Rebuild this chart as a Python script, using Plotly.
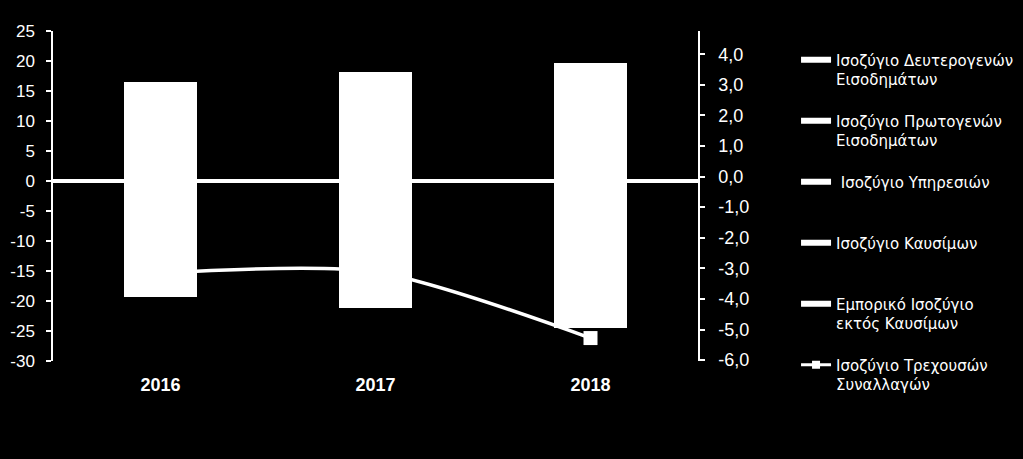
import plotly.graph_objects as go

years = ["2016", "2017", "2018"]
secondary_income = [0.7, 0.6, 0.7]
primary_income = [-0.8, -0.9, -0.9]
services = [15.8, 17.6, 18.9]
fuel = [-3.9, -4.5, -6.0]
trade_ex_fuel = [-14.6, -15.8, -17.6]
current_account = [-3.15, -3.12, -5.28]

left_ticks = [25, 20, 15, 10, 5, 0, -5, -10, -15, -20, -25, -30]
right_ticks = [4, 3, 2, 1, 0, -1, -2, -3, -4, -5, -6]

names = {
    "sec": "Ισοζύγιο Δευτερογενών<br>Εισοδημάτων",
    "pri": "Ισοζύγιο Πρωτογενών<br>Εισοδημάτων",
    "ser": " Ισοζύγιο Υπηρεσιών<br> ",
    "fuel": "Ισοζύγιο Καυσίμων<br> ",
    "trade": "Εμπορικό Ισοζύγιο<br>εκτός Καυσίμων",
    "ca": "Ισοζύγιο Τρεχουσών<br>Συναλλαγών",
}

W = "#ffffff"
AX_FONT = "Liberation Sans, Arial, sans-serif"
fig = go.Figure()

bar_series = [
    ("trade", trade_ex_fuel),
    ("fuel", fuel),
    ("ser", services),
    ("pri", primary_income),
    ("sec", secondary_income),
]
for key, vals in bar_series:
    fig.add_trace(go.Bar(
        x=years, y=vals, name=names[key], width=0.344,
        marker=dict(color=W, line=dict(width=0)),
        showlegend=False, yaxis="y",
    ))

fig.add_trace(go.Scatter(
    x=years, y=current_account, name=names["ca"], yaxis="y2",
    mode="lines+markers",
    line=dict(color=W, width=3.5, shape="spline", smoothing=0.75),
    marker=dict(symbol="square", size=14, color=W),
    showlegend=False,
))

# legend entries (wide rectangle symbols like the original)
legend_order = ["sec", "pri", "ser", "fuel", "trade"]
for i, key in enumerate(legend_order):
    fig.add_trace(go.Scatter(
        x=[None], y=[None], name=names[key], mode="lines",
        line=dict(color=W, width=6), legendrank=i + 1, yaxis="y",
        legendgroup=key,
    ))
fig.add_trace(go.Scatter(
    x=[None], y=[None], name=names["ca"], mode="lines+markers",
    line=dict(color=W, width=3), marker=dict(symbol="square", size=8, color=W),
    legendrank=6, yaxis="y2", legendgroup="ca",
))

fig.update_layout(
    width=1023, height=459,
    paper_bgcolor="#000000", plot_bgcolor="#000000",
    margin=dict(l=53, r=325, t=31, b=98, autoexpand=False),
    font=dict(family=AX_FONT, color=W, size=17),
    barmode="relative", bargap=0,
    showlegend=True,
    legend=dict(
        x=1.152, y=0.962, xanchor="left", yanchor="top",
        font=dict(size=15, color=W, family="DejaVu Sans, sans-serif"),
        bgcolor="rgba(0,0,0,0)",
        tracegroupgap=19, valign="top", itemwidth=30,
        traceorder="grouped", maxheight=459,
    ),
    xaxis=dict(
        type="category", range=[-0.5, 2.5], showgrid=False,
        showline=False, ticks="", zeroline=False,
        tickfont=dict(size=18, family=AX_FONT, weight="bold"),
        ticklabelstandoff=11,
    ),
    yaxis=dict(
        range=[-30, 25], showgrid=False, zeroline=True, zerolinecolor=W,
        zerolinewidth=3.5, showline=True, linecolor=W, linewidth=1.5,
        ticks="outside", ticklen=5, tickcolor=W, tickwidth=1.5,
        tickvals=left_ticks, ticktext=[str(v) for v in left_ticks],
        ticklabelstandoff=8,
    ),
    yaxis2=dict(
        range=[-6.03, 4.76], overlaying="y", side="right", showgrid=False,
        zeroline=False, showline=True, linecolor=W, linewidth=1.5,
        ticks="outside", ticklen=5, tickcolor=W, tickwidth=1.5,
        tickvals=right_ticks,
        ticktext=[f"{v:.1f}".replace(".", ",") for v in right_ticks],
        ticklabelstandoff=10,
        tickfont=dict(size=18),
    ),
)

fig.write_html(
    "out.html",
    config={"displayModeBar": False},
    post_script="document.body.style.margin='0';document.body.style.background='#000';",
)
